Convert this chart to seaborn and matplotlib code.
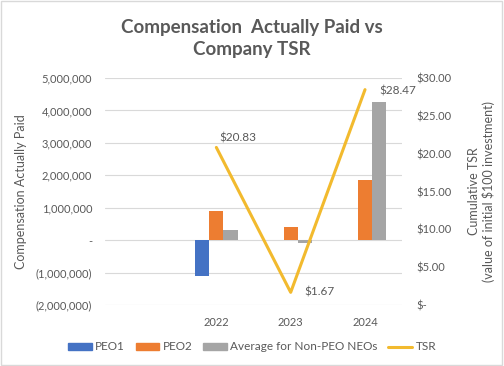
import pandas as pd
import matplotlib
matplotlib.use("Agg")
import matplotlib.pyplot as plt
import seaborn as sns
from matplotlib.patches import Rectangle, Patch
from matplotlib.lines import Line2D
from matplotlib.ticker import FuncFormatter

# datos del grafico
years = ["2022", "2023", "2024"]
peo1 = [-1100000, 0, 0]
peo2 = [900000, 410000, 1850000]
nonPeo = [310000, -80000, 4270000]
tsr = [20.83, 1.67, 28.47]
seriesNames = ["PEO1", "PEO2", "Average for Non-PEO NEOs"]
tsrLabels = ["$20.83", "$1.67", "$28.47"]

colors = ["#4472C4", "#ED7D31", "#A5A5A5"]
gold = "#F2BA2E"
textColor = "#595959"


def leftFmt(v, pos):
    if abs(v) < 1:
        return "-"
    if v < 0:
        return "({:,.0f})".format(-v)
    return "{:,.0f}".format(v)


def rightFmt(v, pos):
    if abs(v) < 0.001:
        return "$-"
    return "${:,.2f}".format(v)


# tabla larga para seaborn
rows = list()
for name, vals in zip(seriesNames, [peo1, peo2, nonPeo]):
    for y, v in zip(years, vals):
        rows.append({"Year": y, "Value": v, "Series": name})
df = pd.DataFrame(rows)

sns.set_style("white")
plt.rcParams["font.family"] = ["Lato", "DejaVu Sans"]

fig = plt.figure(figsize=(5.04, 3.66), dpi=100)
ax = fig.add_axes([0.208, 0.1667, 0.59, 0.62])
sns.barplot(data=df, x="Year", y="Value", hue="Series", order=years,
            hue_order=seriesNames, palette=colors, width=0.57,
            saturation=1, legend=False, linewidth=0, ax=ax)
ax.set_xlim(-1.5, 2.5)
ax.set_ylim(-2000000, 5000000)
ax.set_yticks(range(-2000000, 5000001, 1000000))
ax.yaxis.set_major_formatter(FuncFormatter(leftFmt))
ax.grid(axis="y", color="#D9D9D9", linewidth=0.8)
ax.set_axisbelow(True)
ax.set_xlabel("")
ax.set_ylabel("Compensation Actually Paid", color=textColor, fontsize=9, labelpad=6)
ax.tick_params(axis="both", length=0, labelsize=8, colors=textColor, pad=9)
for s in ax.spines.values():
    s.set_visible(False)

# eje derecho TSR
ax2 = ax.twinx()
tsrDf = pd.DataFrame({"x": [0, 1, 2], "TSR": tsr})
sns.lineplot(data=tsrDf, x="x", y="TSR", color=gold, linewidth=2.2, ax=ax2)
ax2.set_ylim(0, 30)
ax2.set_yticks(range(0, 31, 5))
ax2.yaxis.set_major_formatter(FuncFormatter(rightFmt))
ax2.set_ylabel("Cumulative TSR\n(value of initial $100 investment)",
               color=textColor, fontsize=9, labelpad=12)
ax2.tick_params(axis="y", length=0, labelsize=8, colors=textColor, pad=10)
ax2.set_xlim(-1.5, 2.5)
ax2.set_xlabel("")
for s in ax2.spines.values():
    s.set_visible(False)

offsets = [(2, 7), (10, 0), (10, -1)]
for i in range(len(tsr)):
    ax2.annotate(tsrLabels[i], (i, tsr[i]), xytext=offsets[i], textcoords="offset points",
                 ha="left", va="center", fontsize=8.5, color=textColor)

fig.text(0.5, 0.895, "Compensation  Actually Paid vs\nCompany TSR", ha="center", va="center",
         fontsize=13.5, fontweight="bold", color=textColor, linespacing=1.3)

handles = [Patch(color=c) for c in colors] + [Line2D([0], [0], color=gold, linewidth=2.2)]
fig.legend(handles, seriesNames + ["TSR"], loc="center", bbox_to_anchor=(0.5, 0.052),
           ncol=4, frameon=False, fontsize=8.5, labelcolor=textColor,
           handlelength=2.0, handleheight=0.5, columnspacing=0.9, handletextpad=0.3)

fig.patches.append(Rectangle((0.002, 0.003), 0.995, 0.994, transform=fig.transFigure,
                             fill=False, edgecolor="#D9D9D9", linewidth=1))

plt.savefig("out.png", dpi=100)
plt.close()
